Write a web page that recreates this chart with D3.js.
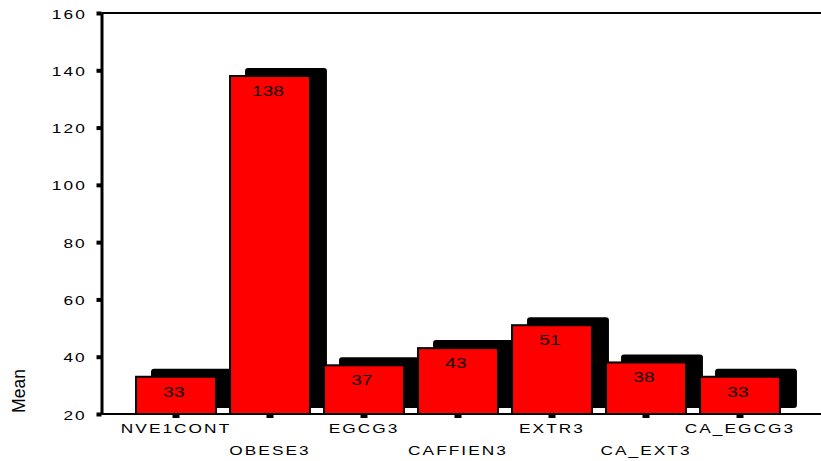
<!DOCTYPE html>
<html>
<head>
<meta charset="utf-8">
<script src="https://cdn.jsdelivr.net/npm/d3@7/dist/d3.min.js"></script>
<style>
  html, body { margin: 0; padding: 0; background: #fff; }
  svg { display: block; }
  text { font-family: "Liberation Sans", Arial, sans-serif; }
</style>
</head>
<body>
<svg id="chart" width="821" height="461"></svg>
<script>
// Group means
const categories = ["NVE1CONT", "OBESE3", "EGCG3", "CAFFIEN3", "EXTR3", "CA_EXT3", "CA_EGCG3"];
const means = [33, 138, 37, 43, 51, 38, 33];
const yTicks = [20, 40, 60, 80, 100, 120, 140, 160];
const yTitle = "Mean";

const W = 821, H = 461;
const svg = d3.select("#chart");
const stretch = "scale(1.28,1)";

const axisX = 101.5, plotTop = 13, plotBottom = 414;

const y = d3.scaleLinear().domain([20, 160]).range([plotBottom, plotTop]);
const x = d3.scaleBand().domain(categories).range([129, 787])
  .paddingInner(0.15).paddingOuter(0.075);

// top frame line
svg.append("line")
  .attr("x1", axisX).attr("x2", W).attr("y1", plotTop).attr("y2", plotTop)
  .attr("stroke", "#000").attr("stroke-width", 2);

// drop shadows behind the bars
const dx = 16, dy = -7;
svg.append("g").selectAll("rect").data(means).join("rect")
  .attr("x", (d, i) => x(categories[i]) + dx)
  .attr("y", d => y(d) + dy)
  .attr("width", x.bandwidth())
  .attr("height", d => plotBottom - y(d))
  .attr("rx", 2)
  .attr("fill", "#000").attr("stroke", "#000").attr("stroke-width", 2);

// bars
svg.append("g").selectAll("rect").data(means).join("rect")
  .attr("x", (d, i) => x(categories[i]))
  .attr("y", d => y(d))
  .attr("width", x.bandwidth())
  .attr("height", d => plotBottom - y(d))
  .attr("fill", "#ff0000").attr("stroke", "#000").attr("stroke-width", 2);

// value labels
svg.append("g").selectAll("g").data(means).join("g")
  .attr("transform", (d, i) => `translate(${x(categories[i]) + x.bandwidth() / 2 - 2},${y(d) + 20}) ${stretch}`)
  .append("text")
  .attr("text-anchor", "middle")
  .attr("font-size", 15)
  .attr("fill", "#140000")
  .text(d => d);

// y axis
const yAxis = svg.append("g")
  .attr("transform", `translate(${axisX},0)`)
  .call(d3.axisLeft(y).tickValues(yTicks).tickSize(5).tickSizeOuter(0));
yAxis.select(".domain").attr("stroke", "#000").attr("stroke-width", 3);
yAxis.selectAll(".tick line").attr("stroke", "#000").attr("stroke-width", 4);
yAxis.selectAll(".tick text")
  .attr("x", -11.5).attr("dy", "0.37em")
  .attr("transform", stretch)
  .attr("font-size", 13.5).attr("letter-spacing", 1.6)
  .attr("fill", "#000");

// x axis baseline
svg.append("line")
  .attr("x1", axisX).attr("x2", W).attr("y1", plotBottom).attr("y2", plotBottom)
  .attr("stroke", "#000").attr("stroke-width", 2);

const xAxis = svg.append("g")
  .attr("transform", `translate(0,${plotBottom + 1})`)
  .call(d3.axisBottom(x).tickSize(3).tickSizeOuter(0));
xAxis.select(".domain").remove();
xAxis.selectAll(".tick line").attr("stroke", "#000").attr("stroke-width", 7);
xAxis.selectAll(".tick text")
  .attr("dy", null)
  .attr("y", (d, i) => (i % 2 ? 40 : 18))
  .attr("transform", stretch)
  .attr("font-size", 13.5).attr("letter-spacing", 1.6)
  .attr("fill", "#000");

// y title
svg.append("text")
  .attr("transform", "translate(25,391) rotate(-90)")
  .attr("text-anchor", "middle")
  .attr("font-size", 17.5)
  .attr("fill", "#000")
  .text(yTitle);
</script>
</body>
</html>
